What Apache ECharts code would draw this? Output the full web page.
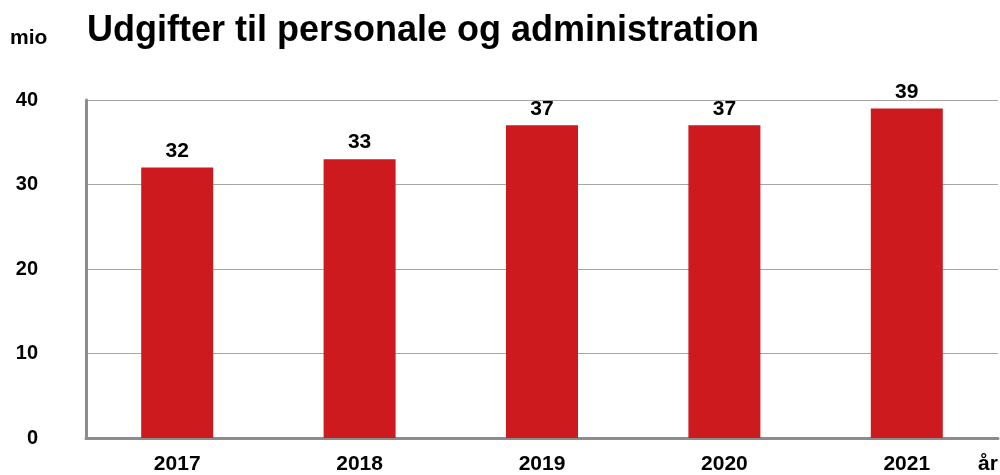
<!DOCTYPE html>
<html lang="da" style="height: 100%">
<head>
  <meta charset="utf-8">
  <script type="text/javascript" src="https://cdn.jsdelivr.net/npm/echarts@6/dist/echarts.min.js"></script>
</head>
<body style="height: 100%; margin: 0; background: #fff">
  <div id="container" style="width: 1000px; height: 475px"></div>
  <script type="text/javascript">
    var years = ['2017', '2018', '2019', '2020', '2021'];
    var udgifter = [32, 33, 37, 37, 39];
    var yTicks = [0, 10, 20, 30, 40];

    var font = '"Liberation Sans", Arial, sans-serif';
    var myChart = echarts.init(document.getElementById('container'), null, {
      renderer: 'canvas'
    });

    var option = {
      animation: false,
      textStyle: { fontFamily: font },
      title: [
        {
          text: 'Udgifter til personale og administration',
          left: 82,
          top: 8,
          textStyle: { fontFamily: font, fontSize: 36, fontWeight: 'bold', color: '#000' }
        },
        {
          text: 'mio',
          left: 5,
          top: 23,
          textStyle: { fontFamily: font, fontSize: 21, fontWeight: 'bold', color: '#000' }
        },
        {
          text: 'år',
          left: 973,
          top: 449,
          textStyle: { fontFamily: font, fontSize: 21, fontWeight: 'bold', color: '#000' }
        }
      ],
      grid: {
        left: 86,
        right: 2,
        top: 100,
        bottom: 35
      },
      xAxis: {
        type: 'category',
        data: years,
        axisLine: { lineStyle: { color: '#8c8c8c', width: 3 } },
        axisTick: { show: false },
        axisLabel: {
          margin: 16,
          fontFamily: font,
          fontSize: 21,
          fontWeight: 'bold',
          color: '#000'
        }
      },
      yAxis: {
        type: 'value',
        min: yTicks[0],
        max: yTicks[yTicks.length - 1],
        interval: 10,
        axisLine: { show: true, lineStyle: { color: '#8c8c8c', width: 3 } },
        axisTick: { show: false },
        splitLine: { lineStyle: { color: '#a6a6a6', width: 1 } },
        axisLabel: {
          margin: 48,
          fontFamily: font,
          fontSize: 20,
          fontWeight: 'bold',
          color: '#000'
        }
      },
      series: [
        {
          type: 'bar',
          data: udgifter,
          barWidth: 72,
          itemStyle: { color: '#cc1a1e' },
          label: {
            show: true,
            position: 'top',
            distance: 6,
            fontFamily: font,
            fontSize: 21,
            fontWeight: 'bold',
            color: '#000'
          }
        }
      ]
    };

    myChart.setOption(option);
  </script>
</body>
</html>
